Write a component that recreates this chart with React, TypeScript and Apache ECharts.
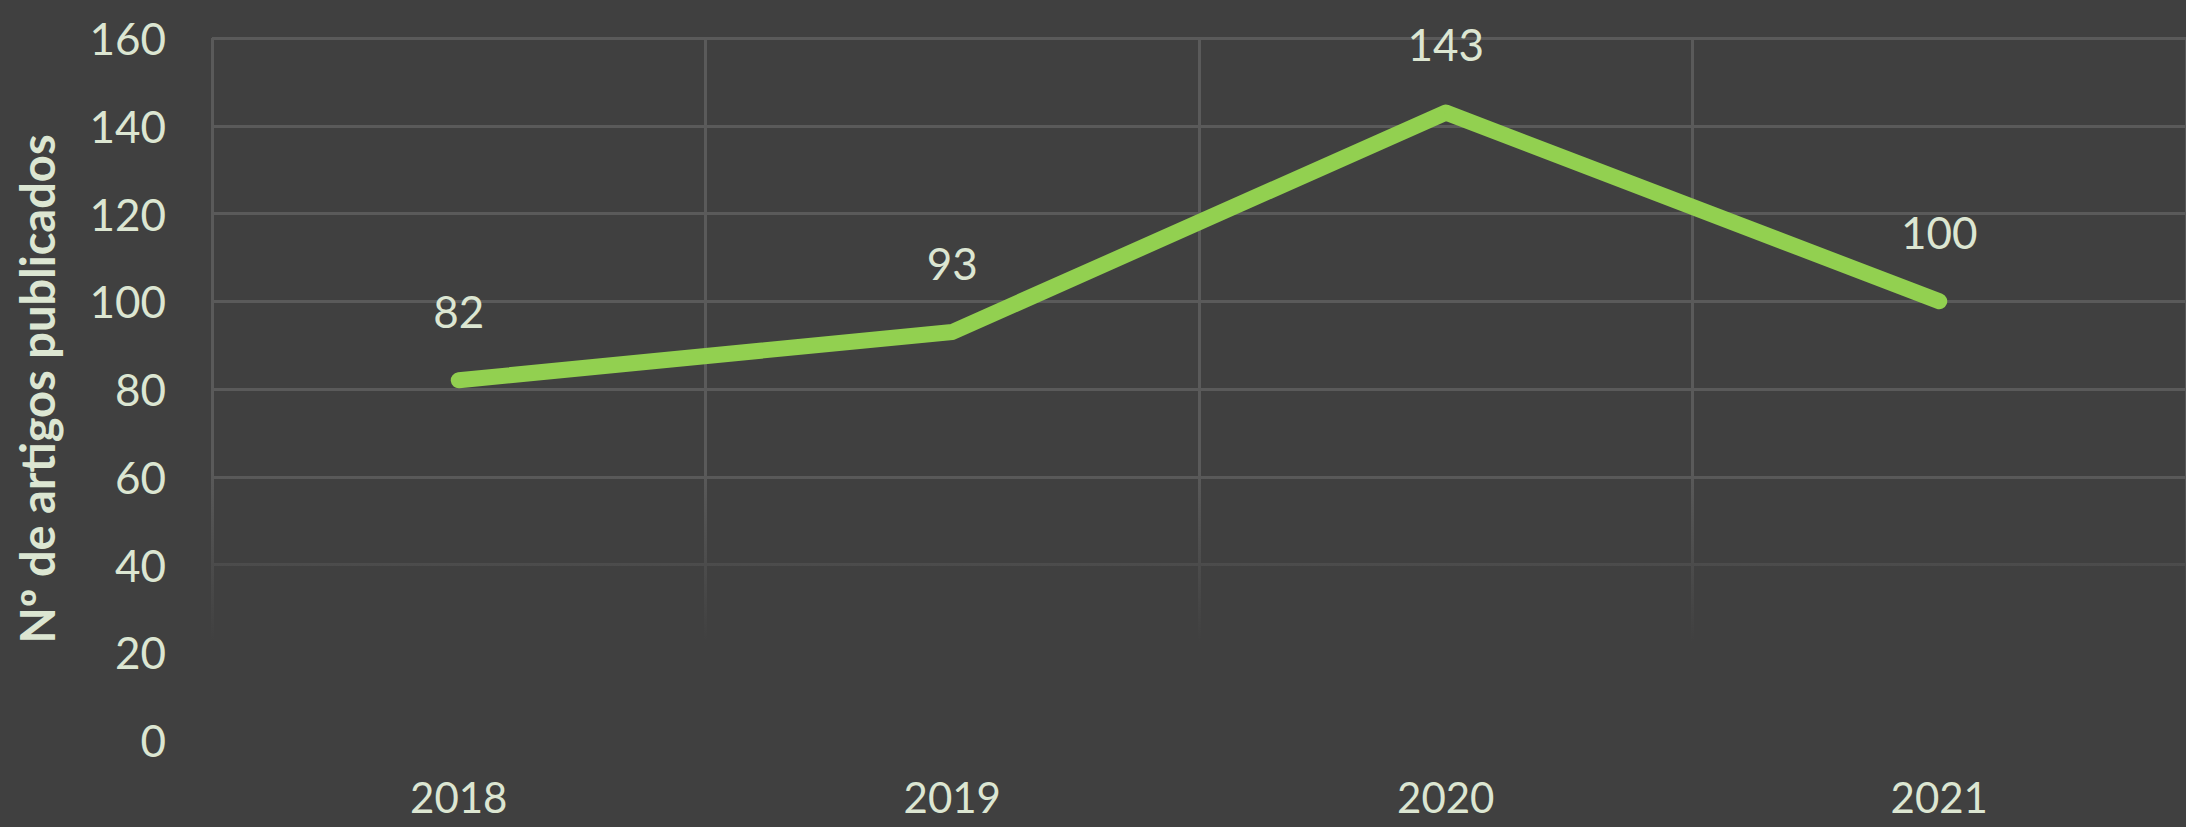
import React, { useEffect, useRef } from "react";
import * as echarts from "echarts";

const years = ["2018", "2019", "2020", "2021"];
const articles = [82, 93, 143, 100];
const yTicks = { min: 0, max: 160, interval: 20 };
const yTitle = "Nº de artigos publicados";

const BG = "#404040";
const GRID = "#5a5a5a";
const TEXT = "#dce6d2";
const LINE = "#92d050";

export default function App() {
  const ref = useRef<HTMLDivElement>(null);
  useEffect(() => {
    document.body.style.margin = "0";
    document.body.style.background = BG;
    const chart = echarts.init(ref.current!, null, { renderer: "svg" });
    chart.setOption({
      animation: false,
      backgroundColor: BG,
      textStyle: { fontFamily: "Lato" },
      grid: { left: 212, right: 0, top: 38, bottom: 87, containLabel: false },
      xAxis: {
        type: "category",
        data: years,
        boundaryGap: true,
        axisLine: { show: false },
        axisTick: { show: false },
        axisLabel: {
          color: TEXT,
          fontSize: 42,
          lineHeight: 42,
          fontFamily: "Lato",
          verticalAlign: "top",
          margin: 36,
        },
        splitLine: { show: true, lineStyle: { color: GRID, width: 3 } },
      },
      yAxis: {
        type: "value",
        min: yTicks.min,
        max: yTicks.max,
        interval: yTicks.interval,
        axisLine: { show: false },
        axisTick: { show: false },
        axisLabel: { color: TEXT, fontSize: 44, fontFamily: "Lato", margin: 46 },
        splitLine: { show: true, lineStyle: { color: GRID, width: 3 } },
        name: yTitle,
        nameLocation: "middle",
        nameRotate: 90,
        nameGap: 152,
        nameTextStyle: { color: TEXT, fontSize: 47, fontWeight: "bold", fontFamily: "Lato" },
      },
      graphic: [
        {
          type: "rect",
          z: 100,
          shape: { x: 200, y: 470, width: 1986, height: 295 },
          style: {
            fill: new echarts.graphic.LinearGradient(0, 0, 0, 1, [
              { offset: 0, color: "rgba(64,64,64,0)" },
              { offset: 0.58, color: "rgba(64,64,64,1)" },
              { offset: 1, color: "rgba(64,64,64,1)" },
            ]),
          },
          silent: true,
        },
      ],
      series: [
        {
          type: "line",
          data: articles,
          z: 200,
          symbol: "circle",
          symbolSize: 2,
          itemStyle: { color: LINE },
          lineStyle: { color: LINE, width: 16, cap: "round", join: "round" },
          label: {
            show: true,
            position: "top",
            distance: 46,
            color: TEXT,
            fontSize: 44,
            fontFamily: "Lato",
          },
        },
      ],
    });
    return () => chart.dispose();
  }, []);
  return <div ref={ref} style={{ width: 2186, height: 827 }} />;
}
